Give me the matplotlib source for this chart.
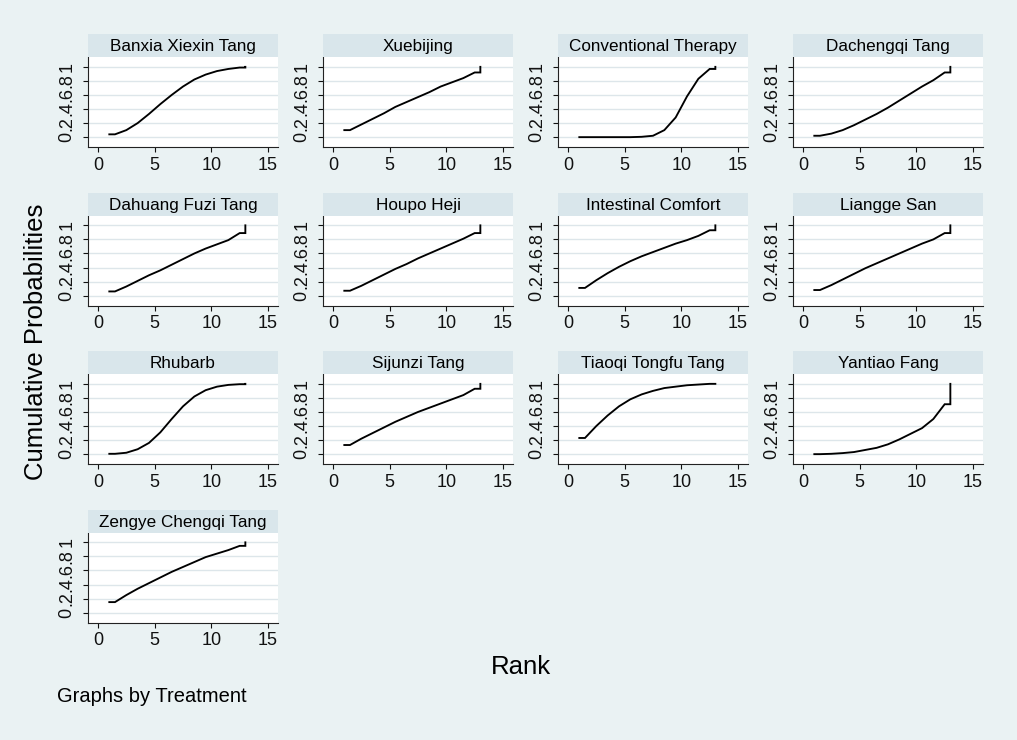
import numpy as np
import matplotlib
matplotlib.use('Agg')
import matplotlib.pyplot as plt

plt.rcParams['font.family'] = ['Liberation Sans', 'DejaVu Sans']

treatments = ['Banxia Xiexin Tang', 'Xuebijing', 'Conventional Therapy', 'Dachengqi Tang',
              'Dahuang Fuzi Tang', 'Houpo Heji', 'Intestinal Comfort', 'Liangge San',
              'Rhubarb', 'Sijunzi Tang', 'Tiaoqi Tongfu Tang', 'Yantiao Fang',
              'Zengye Chengqi Tang']

ranks = np.arange(1, 14)

# cumulative probability at ranks 1..12 (rank 13 is always 1)
cum = {
    'Banxia Xiexin Tang':   [0.04, 0.10, 0.20, 0.33, 0.47, 0.60, 0.72, 0.82, 0.89, 0.94, 0.97, 0.99],
    'Xuebijing':            [0.10, 0.18, 0.26, 0.34, 0.43, 0.50, 0.57, 0.64, 0.72, 0.78, 0.84, 0.92],
    'Conventional Therapy': [0.0, 0.0, 0.0, 0.0, 0.0, 0.005, 0.02, 0.10, 0.28, 0.58, 0.83, 0.97],
    'Dachengqi Tang':       [0.02, 0.05, 0.10, 0.17, 0.25, 0.33, 0.42, 0.52, 0.62, 0.72, 0.81, 0.92],
    'Dahuang Fuzi Tang':    [0.06, 0.13, 0.21, 0.29, 0.36, 0.44, 0.52, 0.60, 0.67, 0.73, 0.79, 0.89],
    'Houpo Heji':           [0.07, 0.14, 0.22, 0.30, 0.38, 0.45, 0.53, 0.60, 0.67, 0.74, 0.81, 0.89],
    'Intestinal Comfort':   [0.11, 0.22, 0.32, 0.41, 0.49, 0.56, 0.62, 0.68, 0.74, 0.79, 0.85, 0.93],
    'Liangge San':          [0.08, 0.15, 0.23, 0.31, 0.39, 0.46, 0.53, 0.60, 0.67, 0.74, 0.80, 0.89],
    'Rhubarb':              [0.005, 0.02, 0.07, 0.16, 0.31, 0.50, 0.68, 0.82, 0.91, 0.96, 0.985, 0.995],
    'Sijunzi Tang':         [0.13, 0.22, 0.30, 0.38, 0.46, 0.53, 0.60, 0.66, 0.72, 0.78, 0.84, 0.93],
    'Tiaoqi Tongfu Tang':   [0.23, 0.40, 0.55, 0.68, 0.78, 0.85, 0.90, 0.94, 0.96, 0.98, 0.99, 1.0],
    'Yantiao Fang':         [0.0, 0.005, 0.015, 0.03, 0.06, 0.09, 0.14, 0.21, 0.29, 0.37, 0.50, 0.71],
    'Zengye Chengqi Tang':  [0.15, 0.25, 0.34, 0.42, 0.50, 0.58, 0.65, 0.72, 0.79, 0.84, 0.89, 0.95],
}

bg = '#EAF2F3'
strip_col = '#D9E6EB'
grid_col = '#DDE6EA'

W, H = 1017, 740
fig = plt.figure(figsize=(W / 100, H / 100), dpi=100, facecolor=bg)

col_x = 88
col_step = 235
ax_w = 190
row_top = 57
row_step = 158.5
ax_h = 90
strip_h = 23

for i, name in enumerate(treatments):
    r, c = divmod(i, 4)
    left = col_x + c * col_step
    top = row_top + r * row_step
    ax = fig.add_axes([left / W, 1 - (top + ax_h) / H, ax_w / W, ax_h / H])
    ax.set_facecolor('white')
    vals = cum[name]
    # line through midpoints, flat at the ends, then up to 1 at last rank
    xs = [ranks[0]] + list(ranks[:-1] + 0.5) + [ranks[-1], ranks[-1]]
    ys = [vals[0]] + vals + [vals[-1], 1.0]
    ax.plot(xs, ys, color='black', lw=1.35, solid_joinstyle='miter')
    ax.set_xlim(-0.88, 15.88)
    ax.set_ylim(-0.14, 1.14)
    ax.set_xticks([0, 5, 10, 15])
    ax.set_yticks([0, 0.2, 0.4, 0.6, 0.8, 1.0])
    ax.set_yticklabels(['0', '.2', '.4', '.6', '.8', '1'], rotation=90, va='center')
    ax.grid(axis='y', color=grid_col, lw=1)
    ax.set_axisbelow(True)
    for s in ['top', 'right']:
        ax.spines[s].set_visible(False)
    for s in ['left', 'bottom']:
        ax.spines[s].set_color('#222222')
        ax.spines[s].set_linewidth(0.8)
    ax.tick_params(axis='x', length=3.6, width=0.8, pad=3.5, labelsize=13, colors='#111111')
    ax.tick_params(axis='y', length=3.6, width=0.8, pad=5.5, labelsize=13, colors='#111111')

    sax = fig.add_axes([left / W, 1 - top / H, ax_w / W, strip_h / H])
    sax.set_facecolor(strip_col)
    sax.set_xticks([])
    sax.set_yticks([])
    for s in sax.spines.values():
        s.set_visible(False)
    sax.text(0.5, 0.45, name, ha='center', va='center', fontsize=12.3, transform=sax.transAxes)

fig.text(36 / W, 1 - 342 / H, 'Cumulative Probabilities', rotation=90, ha='center', va='center', fontsize=18.5)
fig.text(521 / W, 1 - 667 / H, 'Rank', ha='center', va='center', fontsize=18.5)
fig.text(57 / W, 1 - 696 / H, 'Graphs by Treatment', ha='left', va='center', fontsize=14.5)

fig.savefig('out.png', dpi=100, facecolor=bg)
